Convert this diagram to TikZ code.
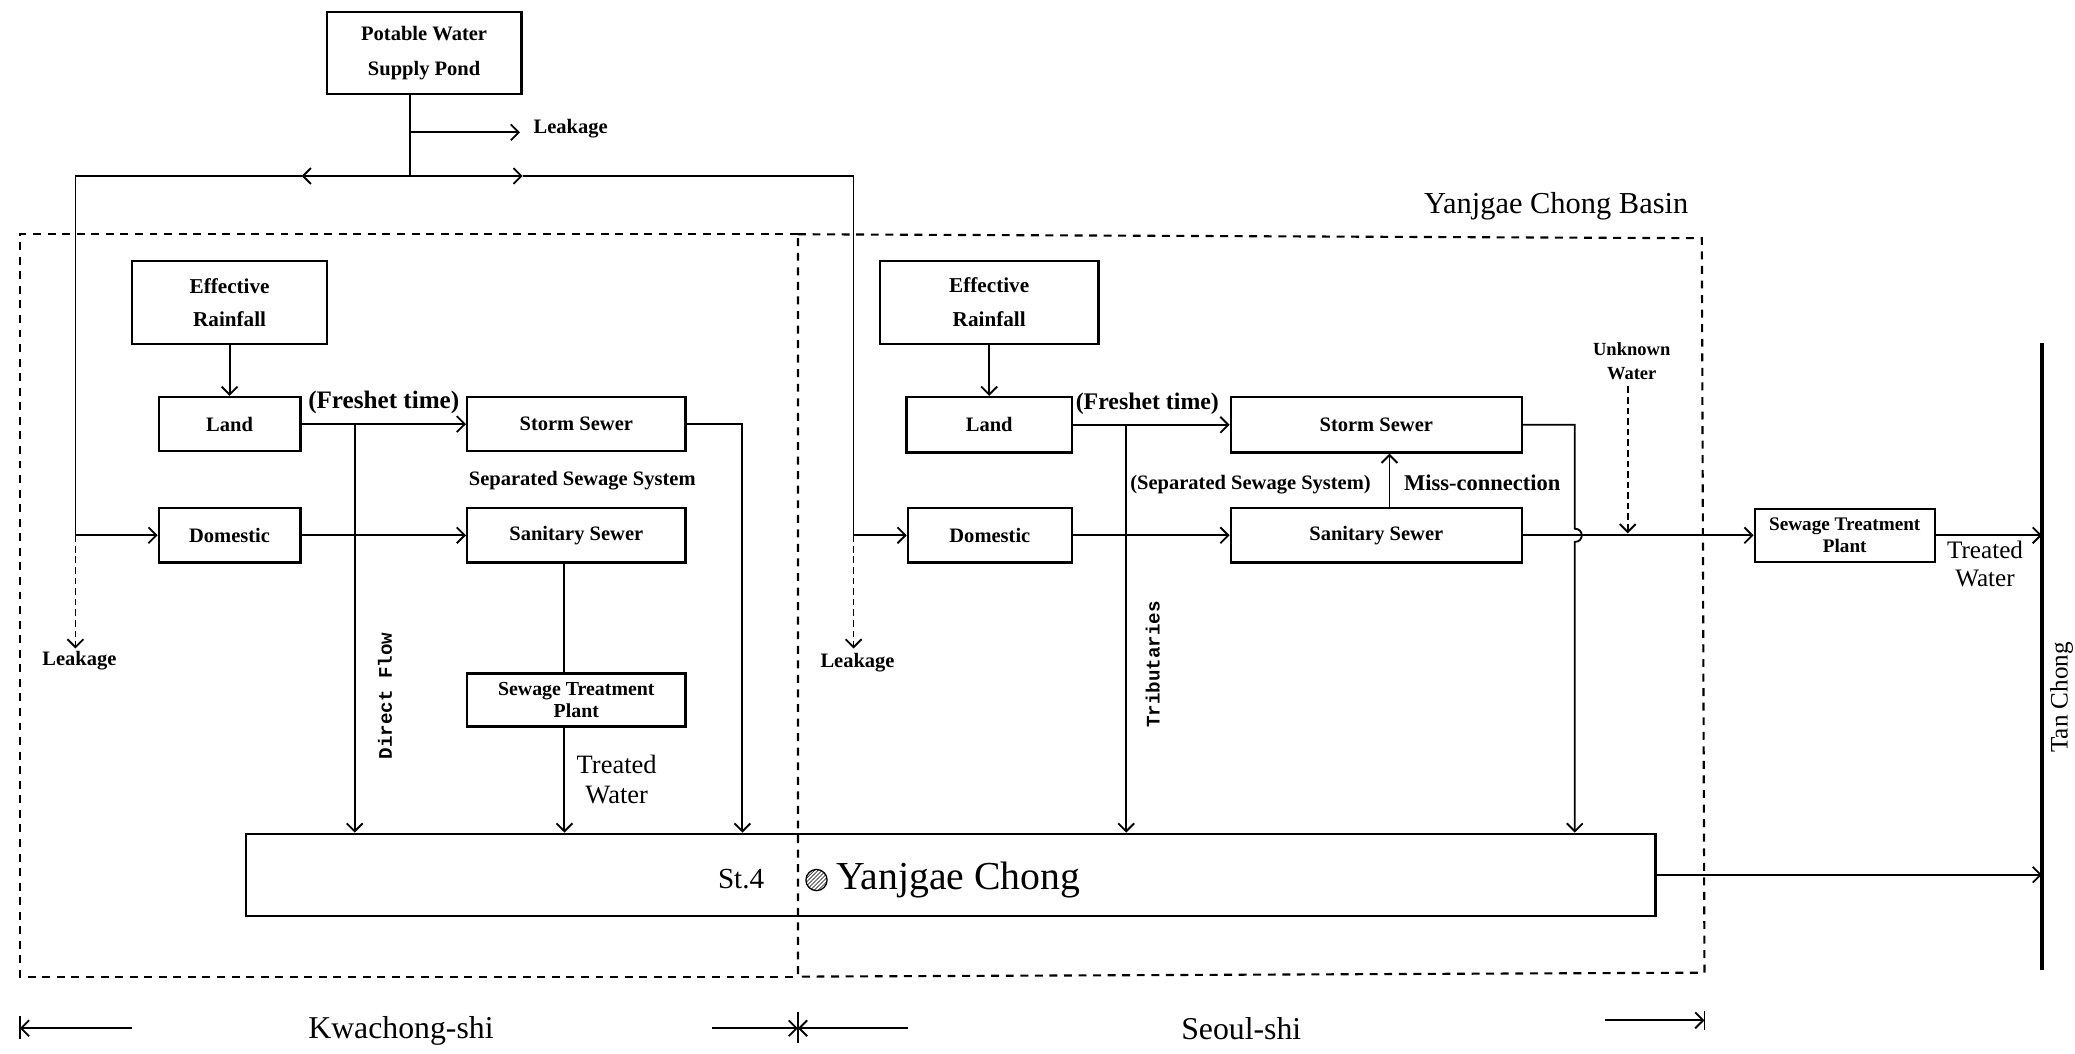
\documentclass[tikz,border=0pt]{standalone}
\usepackage{fontspec}
\setmainfont{Liberation Serif}
\newfontfamily\monof{Liberation Mono}
\usetikzlibrary{arrows.meta,patterns,calc}
\newcommand\bx[2]{\fontsize{#1}{#2}\selectfont\bfseries}
\newcommand\rg[1]{\fontsize{#1}{#1}\selectfont}
\begin{document}
\begin{tikzpicture}[x=1pt,y=-1pt,
  box/.style={draw,line width=1.7pt,inner sep=0pt,align=center},
  arr/.style={-{Straight Barb[length=6pt,width=12pt,line width=1.4pt]}},
  conn/.style={line width=1.4pt},
  dsh/.style={line width=1.6pt,dash pattern=on 6pt off 5pt},
  lkd/.style={line width=1.4pt,dash pattern=on 5pt off 3pt},
  lbl/.style={inner sep=0pt,align=center,font=\bx{15.5}{18}},
  rot/.style={inner sep=0pt,rotate=90,font=\monof\bfseries\fontsize{14.5}{14.5}\selectfont}]
\useasboundingbox (0,0) rectangle (1568,796);
\fill[white] (0,0) rectangle (1568,796);

% ---------- boxes ----------
\node[box,minimum width=147pt,minimum height=62pt,font=\bx{15.5}{26}] (pot) at (320.5,40) {Potable Water\\Supply Pond};

\node[box,minimum width=147pt,minimum height=63pt,font=\bx{16}{25}] (effL) at (173.5,228.5) {Effective\\Rainfall};
\node[box,minimum width=107pt,minimum height=41pt,font=\bx{15.5}{18}] (landL) at (173.5,320.5) {Land};
\node[box,minimum width=165pt,minimum height=41pt,font=\bx{15.5}{18}] (stormL) at (435.5,320.5) {Storm Sewer};
\node[box,minimum width=107pt,minimum height=41pt,font=\bx{15.5}{18}] (domL) at (173.5,404.5) {Domestic};
\node[box,minimum width=165pt,minimum height=41pt,font=\bx{15.5}{18}] (sanL) at (435.5,404.5) {Sanitary Sewer};
\node[box,minimum width=165pt,minimum height=40pt,font=\bx{15}{16}] (stpL) at (435.5,529) {Sewage Treatment\\Plant};

\node[box,minimum width=165pt,minimum height=63pt,font=\bx{16}{26}] (effR) at (747.5,228.5) {Effective\\Rainfall};
\node[box,minimum width=125pt,minimum height=42pt,font=\bx{15.5}{18}] (landR) at (747.5,321) {Land};
\node[box,minimum width=220pt,minimum height=42pt,font=\bx{15.5}{18}] (stormR) at (1040,321) {Storm Sewer};
\node[box,minimum width=124pt,minimum height=41pt,font=\bx{15.5}{18}] (domR) at (748,404.5) {Domestic};
\node[box,minimum width=220pt,minimum height=41pt,font=\bx{15.5}{18}] (sanR) at (1040,404.5) {Sanitary Sewer};
\node[box,minimum width=136pt,minimum height=40pt,font=\bx{14.5}{17}] (stpR) at (1394,404.5) {Sewage Treatment\\Plant};

\node[box,minimum width=1065pt,minimum height=62pt] (river) at (718.5,661) {};

% ---------- basin (dashed) ----------
\draw[dsh] (603,177) -- (15,177) -- (15,738) -- (603,738);
\draw[dsh] (603,177) -- (1286,180) -- (1288,735) -- (603,738) -- cycle;
\node[inner sep=0pt,font=\rg{23}] (basin) at (1176,156) {Yanjgae Chong Basin};

% ---------- supply ----------
\coordinate (jt) at (310,133);
\draw[conn] (jt |- pot.south) -- (jt);
\coordinate (lk) at (310,100);
\coordinate (lkE) at (393,100);
\draw[conn,arr] (lk) -- (lkE);
\node[lbl,anchor=west] (lkT) at (403,97) {Leakage};
\coordinate (tA) at (228,133);
\coordinate (tB) at (395,133);
\coordinate (tL) at (57,133);
\coordinate (tR) at (645,133);
\draw[conn,arr] (jt) -- (tA);
\draw[conn,arr] (jt) -- (tB);
\draw[conn] (tA) -- (tL) -- (tL |- domL);
\draw[conn] (tB) -- (tR) -- (tR |- domR);
\draw[conn,arr] (tL |- domL) -- (domL.west);
\draw[conn,arr] (tR |- domR) -- (domR.west);
\coordinate (lkL) at (57,490);
\coordinate (lkR) at (645,490);
\draw[lkd,arr] (tL |- domL) -- (lkL);
\draw[lkd,arr] (tR |- domR) -- (lkR);
\node[lbl] (lkLT) at (60,499) {Leakage};
\node[lbl] (lkRT) at (648,501) {Leakage};

% ---------- left side flows ----------
\draw[conn,arr] (effL.south) -- (landL.north);
\draw[conn,arr] (landL.east) -- (stormL.west);
\node[lbl,font=\bx{19}{20}] (frL) at (290,304) {(Freshet time)};
\node[lbl] (sepL) at (440,363) {Separated Sewage System};
\draw[conn,arr] (domL.east) -- (sanL.west);
\coordinate (dfL) at (268,320.5);
\draw[conn,arr] (dfL) -- (dfL |- river.north);
\node[rot] (dfT) at (291,526) {Direct Flow};
\draw[conn] ([xshift=-9pt]sanL.south) -- ([xshift=-9pt]stpL.north);
\draw[conn,arr] ([xshift=-9pt]stpL.south) -- ([xshift=-9pt]stpL.south |- river.north);
\node[inner sep=0pt,align=center,font=\fontsize{20}{22}\selectfont] (twL) at (466,589) {Treated\\Water};
\coordinate (soL) at (561,320.5);
\draw[conn,arr] (stormL.east) -- (soL) -- (soL |- river.north);

% ---------- right side flows ----------
\draw[conn,arr] (effR.south) -- (landR.north);
\draw[conn,arr] (landR.east) -- (stormR.west);
\node[lbl,font=\bx{18}{20}] (frR) at (867,305) {(Freshet time)};
\draw[conn,arr] (domR.east) -- (sanR.west);
\coordinate (trb) at (851,321);
\draw[conn,arr] (trb) -- (trb |- river.north);
\node[rot] (trbT) at (871,502) {Tributaries};
\node[lbl] (sepR) at (945,366) {(Separated Sewage System)};
\draw[conn,arr] ([xshift=10pt]sanR.north) -- ([xshift=10pt]stormR.south);
\node[lbl,font=\bx{17}{18}] (miss) at (1120,365) {Miss-connection};
\coordinate (soR) at (1190,321);
\coordinate (hopA) at (1190,399.5);
\coordinate (hopB) at (1190,409.5);
\draw[conn,arr] (stormR.east) -- (soR) -- (hopA) .. controls (1197,399.5) and (1197,409.5) .. (hopB) -- (hopB |- river.north);
\draw[conn,arr] (sanR.east) -- (stpR.west);
\coordinate (uwA) at (1230,292);
\coordinate (uwB) at (1230,403);
\draw[lkd,arr] (uwA) -- (uwB);
\node[lbl,font=\bx{14}{18}] (uwT) at (1233,273) {Unknown\\Water};

% ---------- Tan Chong ----------
\coordinate (tcT) at (1543,259);
\coordinate (tcB) at (1543,733);
\draw[line width=2.6pt] (tcT) -- (tcB);
\draw[conn,arr] (stpR.east) -- (stpR.east -| tcT);
\draw[conn,arr] (river.east) -- (river.east -| tcT);
\node[inner sep=0pt,align=center,font=\fontsize{19}{21}\selectfont] (twR) at (1500,426) {Treated\\Water};
\node[inner sep=0pt,rotate=90,anchor=north,font=\rg{19}] (tan) at (1549,527) {Tan Chong};

% ---------- river labels ----------
\node[inner sep=0pt,font=\rg{22}] (st4) at (560,664) {St.4};
\node[circle,draw,line width=1pt,pattern=north east lines,minimum size=16pt,inner sep=0pt] (mark) at (617,665) {};
\node[inner sep=0pt,font=\rg{30}] (ych) at (724,665) {Yanjgae Chong};

% ---------- bottom extents ----------
\coordinate (kA) at (100,777);
\coordinate (kB) at (15,777);
\coordinate (kC) at (538,777);
\coordinate (kD) at (603,777);
\coordinate (sA) at (686,777);
\coordinate (sB) at (1213,771);
\coordinate (sC) at (1288,771);
\draw[conn,arr] (kA) -- (kB);
\draw[conn] ([yshift=-8pt]kB) -- ([yshift=9pt]kB);
\draw[conn,arr] (kC) -- (kD);
\draw[conn,arr] (sA) -- (kD);
\draw[conn] ([yshift=-11pt]kD) -- ([yshift=12pt]kD);
\draw[conn,arr] (sB) -- (sC);
\draw[conn] ([yshift=-7pt]sC) -- ([yshift=7pt]sC);
\node[inner sep=0pt,font=\rg{24}] (kw) at (303,779) {Kwachong-shi};
\node[inner sep=0pt,font=\rg{24}] (se) at (938,777) {Seoul-shi};
\end{tikzpicture}
\end{document}
